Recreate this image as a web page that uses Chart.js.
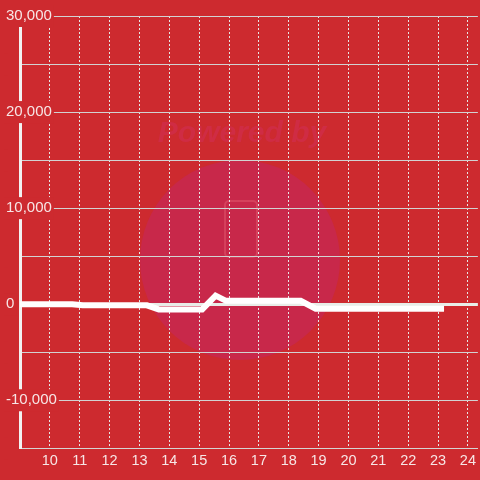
<!DOCTYPE html>
<html><head><meta charset="utf-8">
<style>html,body{margin:0;padding:0;background:#cd2a2f;}</style>
<script src="https://cdn.jsdelivr.net/npm/chart.js@4"></script>
</head><body>
<canvas id="c" width="480" height="480"></canvas>
<script>
// ---- data ----
const xTicks = [10, 11, 12, 13, 14, 15, 16, 17, 18, 19, 20, 21, 22, 23, 24];
const yTicks = [-15000, -10000, -5000, 0, 5000, 10000, 15000, 20000, 25000, 30000];
const yLabelValues = [30000, 20000, 10000, 0, -10000];
const seriesHours = [9, 10.75, 11.1, 13.25, 13.65, 15.1, 15.55, 15.9, 18.4, 18.9, 23.2];
const seriesValues = [0, 0, -120, -120, -540, -540, 900, 350, 350, -470, -470];

const BG = '#cd2a2f';

const bgPlugin = {
  id: 'bg',
  beforeDraw(chart) {
    const ctx = chart.ctx;
    ctx.save();
    ctx.fillStyle = BG;
    ctx.fillRect(0, 0, chart.width, chart.height);
    // watermark
    ctx.fillStyle = '#c8284a';
    ctx.beginPath();
    ctx.arc(240, 260, 100, 0, Math.PI * 2);
    ctx.fill();
    ctx.fillStyle = 'rgba(210,45,85,0.55)';
    ctx.font = 'italic bold 30px "Liberation Sans", Arial, sans-serif';
    ctx.textAlign = 'center';
    ctx.textBaseline = 'middle';
    ctx.fillText('Powered by', 242, 134);
    ctx.strokeStyle = 'rgba(225,90,110,0.5)';
    ctx.lineWidth = 2;
    ctx.beginPath();
    ctx.roundRect(225, 201, 32, 56, 4);
    ctx.stroke();
    ctx.restore();
  }
};

const xFont = { family: '"Liberation Sans", Arial, sans-serif', size: 14.5 };
const yFont = { family: '"Liberation Sans", Arial, sans-serif', size: 15 };
const labelColor = '#f7e6e6';

new Chart(document.getElementById('c'), {
  type: 'line',
  data: {
    datasets: [{
      data: seriesHours.map((h, i) => ({ x: h, y: seriesValues[i] })),
      borderColor: '#ffffff',
      borderWidth: 6,
      pointRadius: 0,
      tension: 0,
      fill: false
    }]
  },
  options: {
    responsive: false,
    animation: false,
    layout: { padding: { left: 5, top: 16, right: 0, bottom: 11 } },
    plugins: { legend: { display: false }, tooltip: { enabled: false } },
    scales: {
      x: {
        type: 'linear',
        min: 9,
        max: 24.3333,
        afterBuildTicks: a => { a.ticks = xTicks.map(v => ({ value: v })); },
        afterFit: a => { a.height = 20.7; },
        grid: { color: '#e6e6e6', lineWidth: 1, drawTicks: false },
        border: { display: true, color: '#d4d4d4', width: 1, dash: [2, 2] },
        ticks: { color: labelColor, font: xFont, padding: 4, maxRotation: 0, autoSkip: false,
                 callback: v => String(v) }
      },
      y: {
        type: 'linear',
        min: -15000,
        max: 30000,
        afterBuildTicks: a => { a.ticks = yTicks.map(v => ({ value: v })); },
        afterFit: a => { a.width = 15; },
        grid: {
          drawTicks: false,
          color: c => (c.tick && c.tick.value === 0) ? '#e8ede8' : '#d2d2d2',
          lineWidth: c => (c.tick && c.tick.value === 0) ? 3 : 1
        },
        border: { display: true, color: '#f2f2f2', width: 3 },
        ticks: {
          mirror: true,
          crossAlign: 'near',
          padding: -14,
          color: labelColor,
          font: yFont,
          showLabelBackdrop: true,
          backdropColor: BG,
          backdropPadding: 2,
          callback: v => yLabelValues.includes(v) ? v.toLocaleString('en-US') : ''
        }
      }
    }
  },
  plugins: [bgPlugin]
});
</script>
</body></html>
